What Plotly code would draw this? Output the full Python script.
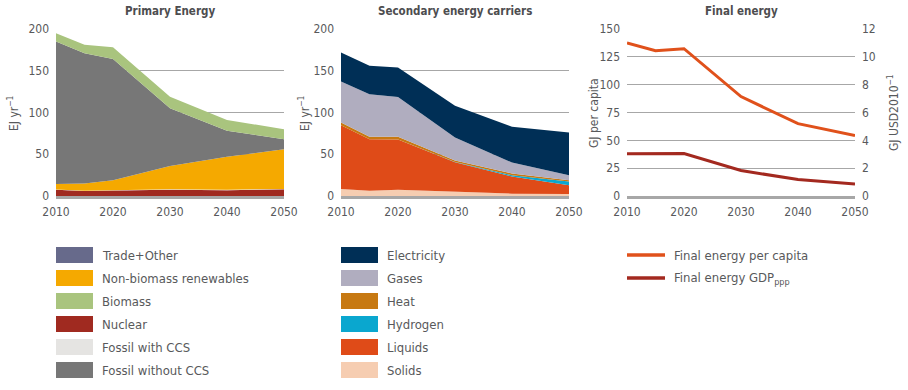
import plotly.graph_objects as go

# ---------------- data ----------------
years = [2010, 2015, 2020, 2030, 2040, 2050]
x_ticks = [2010, 2020, 2030, 2040, 2050]

# Primary energy, EJ/yr (stack order bottom -> top)
nuclear = [7.5, 6.0, 6.5, 7.5, 7.0, 8.0]
fossil_ccs = [0.4, 0.3, 0.3, 0.5, 0.5, 0.5]
non_biomass_ren = [6.5, 8.7, 12.2, 28.0, 39.5, 47.5]
fossil_no_ccs = [170.6, 156.0, 145.0, 69.0, 31.0, 12.0]
biomass = [10.0, 10.0, 14.0, 14.0, 13.0, 12.0]
trade_other = [0.0, 0.0, 0.0, 0.0, 0.0, 0.0]

# Secondary energy carriers, EJ/yr (stack order bottom -> top)
solids = [8.4, 6.4, 7.6, 5.2, 2.8, 2.4]
liquids = [76.2, 61.6, 60.1, 35.3, 20.7, 10.6]
hydrogen = [0.0, 0.0, 0.0, 0.3, 1.5, 4.5]
heat = [3.4, 3.0, 3.3, 1.7, 2.0, 1.5]
gases = [49.0, 51.0, 47.6, 27.5, 13.0, 6.0]
electricity = [35.0, 34.0, 35.4, 38.0, 43.0, 51.0]

# Final energy
fe_per_capita = [137.4, 130.5, 132.3, 89.3, 65.0, 54.4]      # GJ per capita
fe_gdp = [3.03, 3.03, 3.05, 1.83, 1.18, 0.87]                 # GJ / USD2010

primary_legend = ["Trade+Other", "Non-biomass renewables", "Biomass",
                  "Nuclear", "Fossil with CCS", "Fossil without CCS"]
secondary_legend = ["Electricity", "Gases", "Heat", "Hydrogen", "Liquids", "Solids"]
final_legend = ["Final energy per capita", "Final energy GDP<sub>ppp</sub>"]

# ---------------- styles ----------------
COL = {
    "Trade+Other": "#676a8b",
    "Non-biomass renewables": "#f5a900",
    "Biomass": "#a9c47e",
    "Nuclear": "#a02a20",
    "Fossil with CCS": "#e5e4e2",
    "Fossil without CCS": "#777777",
    "Electricity": "#002f56",
    "Gases": "#b0adbf",
    "Heat": "#c77912",
    "Hydrogen": "#0aa7cf",
    "Liquids": "#df4b18",
    "Solids": "#f6cdb1",
}
FE_COL = ["#e0511b", "#a3291f"]

FONT = "DejaVu Sans Condensed, Liberation Sans Narrow, sans-serif"
TXT = "#58595b"
GRID = "#a7a7a7"

W, H = 908, 390
def px(x):
    return x / W
def py(y):
    return 1 - y / H

Y_DOM = [py(196), py(29)]
X_DOMS = [[px(56), px(284)], [px(341), px(569)], [px(627), px(855)]]

fig = go.Figure()

def add_stack(name, vals, xa, ya, group):
    fig.add_trace(go.Scatter(
        x=years, y=vals, name=name, mode="lines",
        stackgroup=group, line=dict(width=0, color=COL[name]),
        fillcolor=COL[name], xaxis=xa, yaxis=ya, showlegend=False,
        hoverinfo="x+y+name"))

for name, vals in [("Nuclear", nuclear), ("Fossil with CCS", fossil_ccs),
                   ("Non-biomass renewables", non_biomass_ren),
                   ("Fossil without CCS", fossil_no_ccs), ("Biomass", biomass),
                   ("Trade+Other", trade_other)]:
    add_stack(name, vals, "x", "y", "prim")

for name, vals in [("Solids", solids), ("Liquids", liquids), ("Hydrogen", hydrogen),
                   ("Heat", heat), ("Gases", gases), ("Electricity", electricity)]:
    add_stack(name, vals, "x2", "y2", "sec")

fig.add_trace(go.Scatter(x=years, y=fe_per_capita, name="Final energy per capita",
                         mode="lines", line=dict(color=FE_COL[0], width=3),
                         xaxis="x3", yaxis="y3", showlegend=False))
fig.add_trace(go.Scatter(x=years, y=fe_gdp, name="Final energy GDPppp",
                         mode="lines", line=dict(color=FE_COL[1], width=3),
                         xaxis="x3", yaxis="y4", showlegend=False))

tickfont = dict(family=FONT, size=12, color=TXT)

def xax(dom, anchor):
    return dict(domain=dom, anchor=anchor, range=[2010, 2050], tickvals=x_ticks,
                showgrid=False, zeroline=False, showline=True, linewidth=3,
                linecolor=GRID, ticks="", tickfont=tickfont, ticklabelstandoff=3,
                automargin=False, fixedrange=True)

def yax(anchor, rng, dtick, side="left", overlay=None, grid=True):
    d = dict(domain=Y_DOM, anchor=anchor, range=rng, dtick=dtick, side=side,
             showgrid=grid, gridcolor=GRID, gridwidth=1, zeroline=False,
             showline=False, ticks="", tickfont=tickfont, ticklabelstandoff=6,
             automargin=False, fixedrange=True)
    if overlay:
        d["overlaying"] = overlay
    return d

fig.update_layout(
    width=W, height=H, margin=dict(l=0, r=0, t=0, b=0, autoexpand=False),
    paper_bgcolor="white", plot_bgcolor="white",
    font=dict(family=FONT, color=TXT),
    xaxis=xax(X_DOMS[0], "y"), yaxis=yax("x", [0, 200], 50),
    xaxis2=xax(X_DOMS[1], "y2"), yaxis2=yax("x2", [0, 200], 50),
    xaxis3=xax(X_DOMS[2], "y3"), yaxis3=yax("x3", [0, 150], 25),
    yaxis4=yax("x3", [0, 12], 2, side="right", overlay="y3", grid=False),
    showlegend=False,
)

ann = []
# panel titles
for title, dom in zip(["Primary Energy", "Secondary energy carriers", "Final energy"], X_DOMS):
    ann.append(dict(text="<b>" + title + "</b>", x=(dom[0] + dom[1]) / 2, y=py(11),
                    xref="paper", yref="paper", xanchor="center", yanchor="middle",
                    showarrow=False,
                    font=dict(family=FONT, size=11.5, color="#4d4d4f")))
# axis titles
for text, xc in [("EJ yr<sup>−1</sup>", 13), ("EJ yr<sup>−1</sup>", 304),
                 ("GJ per capita", 594), ("GJ USD2010<sup>−1</sup>", 893)]:
    ann.append(dict(text=text, x=px(xc), y=py(113), xref="paper", yref="paper",
                    xanchor="center", yanchor="middle",
                    showarrow=False, textangle=-90,
                    font=dict(family=FONT, size=12, color=TXT)))

shapes = []
ROW0, DY = 255, 23
# manual legends
for i, name in enumerate(primary_legend):
    yc = ROW0 + i * DY
    shapes.append(dict(type="rect", xref="paper", yref="paper",
                       x0=px(56), x1=px(93), y0=py(yc + 8), y1=py(yc - 8),
                       fillcolor=COL[name], line=dict(width=0)))
    ann.append(dict(text=name, x=px(100), y=py(yc), xref="paper", yref="paper",
                    xanchor="left", yanchor="middle", showarrow=False,
                    font=dict(family=FONT, size=13, color=TXT)))
for i, name in enumerate(secondary_legend):
    yc = ROW0 + i * DY
    shapes.append(dict(type="rect", xref="paper", yref="paper",
                       x0=px(341), x1=px(378), y0=py(yc + 8), y1=py(yc - 8),
                       fillcolor=COL[name], line=dict(width=0)))
    ann.append(dict(text=name, x=px(385), y=py(yc), xref="paper", yref="paper",
                    xanchor="left", yanchor="middle", showarrow=False,
                    font=dict(family=FONT, size=13, color=TXT)))
for i, name in enumerate(final_legend):
    yc = ROW0 + i * DY
    shapes.append(dict(type="line", xref="paper", yref="paper",
                       x0=px(627), x1=px(665), y0=py(yc), y1=py(yc),
                       line=dict(color=FE_COL[i], width=3.5)))
    ann.append(dict(text=name, x=px(672), y=py(yc), xref="paper", yref="paper",
                    xanchor="left", yanchor="middle", showarrow=False,
                    font=dict(family=FONT, size=13, color=TXT)))

fig.update_layout(annotations=ann, shapes=shapes)
# remove the default 8px page margin so the figure sits at the window's top-left
fig.write_html("out.html", config={"displayModeBar": False},
               post_script="document.body.style.margin='0';document.body.style.overflow='hidden';")
